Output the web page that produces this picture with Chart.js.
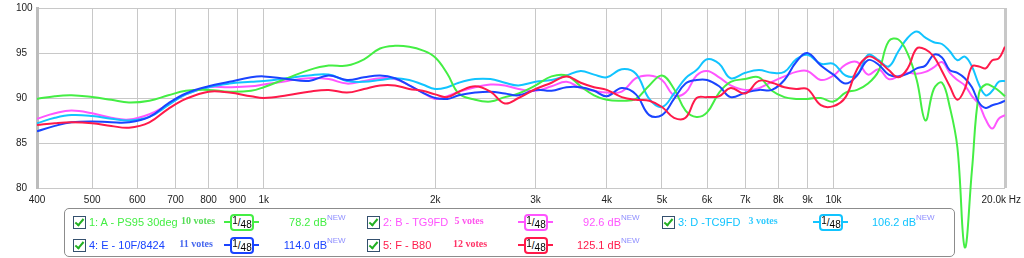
<!DOCTYPE html>
<html>
<head>
<meta charset="utf-8">
<script src="https://cdn.jsdelivr.net/npm/chart.js@4.4.1/dist/chart.umd.min.js"></script>
<style>
  body { margin: 0; background: #fff; font-family: "Liberation Sans", Arial, sans-serif; }
  #wrap { position: relative; width: 1024px; height: 258px; overflow: hidden; }
  #chartCanvas { position: absolute; left: 0; top: 0; }
  .box { position: absolute; left: 64px; top: 208px; width: 889px; height: 47px; border: 1px solid #8c8c8c; border-radius: 5px; }
  .cb { position: absolute; width: 11px; height: 11px; border: 1px solid #34506e; background: #fff; }
  .cb:after { content: ""; position: absolute; left: 3px; top: 0px; width: 3px; height: 7px; border: solid #22b022; border-width: 0 2px 2px 0; transform: rotate(40deg); }
  .txt { position: absolute; white-space: nowrap; font-size: 11px; line-height: 14px; }
  .votes { position: absolute; white-space: nowrap; font-family: "Liberation Serif", "Times New Roman", serif; font-weight: bold; font-size: 10px; line-height: 14px; transform: translateX(-50%); }
  .fline { position: absolute; height: 2px; width: 35px; }
  .fbox { position: absolute; width: 20px; height: 13px; border: 2px solid; border-radius: 4px; background: #fff; color: #000; font-size: 10px; line-height: 13px; text-align: center; }
  .db { position: absolute; white-space: nowrap; font-size: 11px; line-height: 14px; }
  .db sup { font-size: 8px; color: #8f8fff; vertical-align: 0; position: relative; top: -4px; }
</style>
</head>
<body>
<div id="wrap">
  <canvas id="chartCanvas" width="1024" height="258"></canvas>
  <div class="box"></div>
  <div id="legend"></div>
</div>
<script>
// frequency points (Hz) shared by all curves
const freqs = [400, 430, 460, 500, 540, 580, 630, 680, 730, 800, 870, 950, 1000,
  1100, 1200, 1300, 1400, 1500, 1600, 1700, 1800, 1900, 2000,
  2100, 2200, 2350, 2500, 2650, 2800, 3000,
  3200, 3400, 3600, 3800, 4000,
  4250, 4500, 4750, 5000, 5250, 5500, 5750, 6000,
  6300, 6600, 7000, 7400, 7800, 8200, 8600, 9000, 9500, 10000,
  10500, 11000, 11500, 12000, 12500, 13000, 13500, 14000, 14500, 15000,
  15500, 16000, 16500, 17000, 17500, 18000, 18500, 19000, 19500, 20000];

const dbA = [89.9, 90.2, 90.3, 90.1, 89.8, 89.5, 89.7, 90.3, 90.8, 90.9, 90.7, 90.8, 91.2,
  92.2, 93.1, 93.6, 93.6, 94.3, 95.5, 95.8, 95.7, 95.3, 94.5,
  92.7, 90.5, 89.8, 89.6, 90.1, 90.5, 91.4,
  92.4, 92.5, 91.3, 90.3, 89.8,
  89.7, 89.9, 91.4, 92.5, 91.0, 88.6, 87.9, 88.4,
  90.6, 91.8, 92.1, 92.3, 90.8, 90.1, 89.9, 89.9, 90.0, 89.6,
  90.6, 90.9, 91.6, 93.0, 96.3, 96.5, 94.9, 92.0, 87.5, 91.0,
  91.7, 89.0, 84.5, 73.4, 82.0, 90.5, 91.5, 91.3, 90.8, 90.2];

const dbB = [87.7, 88.3, 88.6, 88.3, 87.8, 87.6, 88.2, 89.3, 90.4, 91.2, 91.2, 91.3, 91.5,
  91.9, 92.2, 92.1, 91.6, 91.9, 92.2, 92.1, 91.4, 90.6, 89.9,
  90.2, 90.7, 91.2, 91.5, 91.4, 91.0, 90.8,
  91.3, 91.8, 91.1, 90.8, 90.6,
  90.7, 92.2, 92.5, 92.0, 90.3, 90.6, 92.5, 93.0,
  92.3, 91.4, 90.9, 91.1, 91.8, 92.4, 92.9, 93.0, 92.0, 92.5,
  93.7, 94.0, 92.6, 93.2, 92.1, 92.4, 92.8, 92.7, 92.9, 93.4,
  94.0, 92.8, 92.0, 91.4, 90.2, 89.3, 87.6, 86.6, 87.7, 88.1];

const dbD = [87.2, 87.8, 88.1, 88.0, 87.7, 87.5, 87.9, 89.2, 90.4, 91.2, 91.6, 91.8, 91.9,
  92.2, 92.5, 92.6, 91.9, 91.8, 92.0, 92.2, 92.0, 91.5, 91.0,
  91.2, 91.7, 92.1, 92.1, 91.7, 91.4, 91.8,
  92.0, 92.5, 93.0, 92.6, 92.3,
  93.2, 92.7, 89.9, 89.0, 90.5, 92.2, 93.1, 94.3,
  93.8, 92.2, 92.8, 93.1, 92.8, 92.9, 94.3, 94.8, 93.8, 93.8,
  92.5, 92.6, 94.8, 94.2, 93.5, 95.2, 96.7, 97.4, 96.7, 96.2,
  96.0, 95.2, 94.2, 94.6, 93.5, 91.5, 90.3, 90.8, 91.8, 91.9];

const dbE = [86.3, 86.9, 87.3, 87.4, 87.3, 87.3, 87.9, 89.4, 90.5, 91.3, 91.8, 92.3, 92.4,
  92.1, 91.9, 92.5, 92.0, 92.3, 92.5, 92.2, 91.4, 90.6, 90.0,
  89.9, 90.3, 90.6, 90.7, 90.5, 90.3, 90.9,
  90.8, 91.2, 91.2, 90.8, 90.2,
  91.1, 90.4, 88.1, 88.1, 89.9, 91.6, 92.0, 92.0,
  91.3, 90.1, 90.6, 90.9, 90.9, 92.0, 94.0, 95.0, 93.6, 92.6,
  91.6, 92.5, 94.2, 93.7, 92.6, 92.4, 92.7, 93.3, 93.6, 94.8,
  94.5, 93.1, 92.8, 92.2, 91.2, 89.5, 88.9, 89.2, 89.4, 89.7];

const dbF = [87.0, 87.2, 87.3, 87.2, 86.9, 86.7, 87.3, 88.8, 89.9, 90.7, 90.6, 90.2, 90.0,
  90.3, 90.7, 90.9, 90.6, 91.0, 91.4, 91.4, 91.0, 90.8, 90.4,
  90.1, 90.7, 91.3, 90.7, 89.4, 90.0, 91.0,
  91.7, 92.4, 91.7, 91.2, 90.9,
  90.1, 89.8, 89.7, 89.0, 87.8, 87.8, 90.0, 90.1,
  90.2, 91.1, 90.5, 91.9, 91.7, 91.2, 91.0, 91.0, 89.2, 89.1,
  90.1, 93.2, 94.6, 94.1, 93.1, 92.3, 93.3, 95.5, 95.4, 94.6,
  93.0, 91.3, 89.8, 91.0, 93.5, 93.5, 93.3, 94.2, 94.4, 95.7];

const xTicks = [400, 500, 600, 700, 800, 900, 1000, 2000, 3000, 4000, 5000, 6000, 7000, 8000, 9000, 10000, 20000];
const xTickLabels = ['400', '500', '600', '700', '800', '900', '1k', '2k', '3k', '4k', '5k', '6k', '7k', '8k', '9k', '10k', '20.0k Hz'];

// legend entries
const names = ['1: A - PS95 30deg', '2: B - TG9FD', '3: D -TC9FD', '4: E - 10F/8424', '5: F - B80'];
const votes = ['10 votes', '5 votes', '3 votes', '11 votes', '12 votes'];
const levels = ['78.2 dB', '92.6 dB', '106.2 dB', '114.0 dB', '125.1 dB'];
const colors = ['#44ee44', '#ff55ff', '#11c4ff', '#1a44ff', '#ff1a4a'];
const voteColors = ['#55dd55', '#ff55ee', '#33ccff', '#4466ee', '#ff3366'];

// legend layout: checkbox left, row center, vote center
const legendPos = [[73, 222, 198], [367, 222, 469], [662, 222, 763], [73, 245, 196], [367, 245, 470]];

function buildLegend() {
  var html = '';
  legendPos.forEach(function (p, i) {
    var cx = p[0], cy = p[1];
    html += '<div class="cb" style="left:' + cx + 'px;top:' + (cy - 6) + 'px"></div>';
    html += '<div class="txt" style="left:' + (cx + 16) + 'px;top:' + (cy - 7) + 'px;color:' + colors[i] + '">' + names[i] + '</div>';
    html += '<div class="votes" style="left:' + p[2] + 'px;top:' + (cy - 8) + 'px;color:' + voteColors[i] + '">' + votes[i] + '</div>';
    html += '<div class="fline" style="left:' + (cx + 151) + 'px;top:' + (cy - 1) + 'px;background:' + colors[i] + '"></div>';
    html += '<div class="fbox" style="left:' + (cx + 157) + 'px;top:' + (cy - 8) + 'px;border-color:' + colors[i] + '">' +
      '<span style="position:relative;top:-2px">1</span>/<span style="position:relative;top:2px">48</span></div>';
    html += '<div class="db" style="right:' + (1024 - cx - 254) + 'px;top:' + (cy - 7) + 'px;color:' + colors[i] + '">' + levels[i] + '<sup style="position:absolute;left:100%;top:-4px">NEW</sup></div>';
  });
  document.getElementById('legend').innerHTML = html;
}

function pts(vals) {
  return vals.map(function (v, i) { return { x: freqs[i], y: v }; });
}

const xLabelPlugin = {
  id: 'xLabelPlugin',
  afterDraw: function (chart) {
    var s = chart.scales.x, c = chart.ctx;
    c.save();
    c.font = '10px "Liberation Sans", Arial, sans-serif';
    c.fillStyle = '#222';
    c.textBaseline = 'middle';
    xTicks.forEach(function (v, i) {
      var px = s.getPixelForValue(v);
      if (i === xTicks.length - 1) {
        c.textAlign = 'right';
        c.fillText(xTickLabels[i], px + 16, 200);
      } else {
        c.textAlign = 'center';
        c.fillText(xTickLabels[i], px, 200);
      }
    });
    c.restore();
  }
};

function drawChart() {
  var existingChart = Chart.getChart('chartCanvas');
  if (existingChart) {
    existingChart.destroy();
  }
  var ctx = document.getElementById('chartCanvas').getContext('2d');
  new Chart(ctx, {
    type: 'line',
    data: {
      datasets: [
        { label: names[4], data: pts(dbF), borderColor: colors[4] },
        { label: names[3], data: pts(dbE), borderColor: colors[3] },
        { label: names[0], data: pts(dbA), borderColor: colors[0], clip: false },
        { label: names[2], data: pts(dbD), borderColor: colors[2] },
        { label: names[1], data: pts(dbB), borderColor: colors[1] }
      ]
    },
    options: {
      responsive: false,
      animation: false,
      devicePixelRatio: 1,
      layout: { padding: { left: 16, right: 19, top: 8, bottom: 70 } },
      plugins: { legend: { display: false }, tooltip: { enabled: false } },
      elements: {
        point: { radius: 0 },
        line: { borderWidth: 2, tension: 0.4, fill: false }
      },
      scales: {
        x: {
          type: 'logarithmic',
          min: 400,
          max: 20000,
          afterBuildTicks: function (s) { s.ticks = xTicks.map(function (v) { return { value: v }; }); },
          afterFit: function (s) { s.height = 0; s.paddingLeft = 0; s.paddingRight = 0; },
          ticks: { display: false },
          grid: {
            color: '#c8c8c8',
            drawTicks: false,
            lineWidth: function (c) { return c.index === xTicks.length - 1 ? 3 : 1; }
          },
          border: { display: false }
        },
        y: {
          min: 80,
          max: 100,
          afterFit: function (s) { s.width = 21; s.paddingTop = 0; s.paddingBottom = 0; },
          ticks: {
            stepSize: 5,
            crossAlign: 'far',
            padding: 0,
            color: '#222',
            font: { size: 10, family: '"Liberation Sans", Arial, sans-serif' }
          },
          grid: { color: '#c8c8c8', drawTicks: false },
          border: { color: '#bcbcbc', width: 3 }
        }
      }
    },
    plugins: [xLabelPlugin]
  });
}

buildLegend();
drawChart();
</script>
</body>
</html>
